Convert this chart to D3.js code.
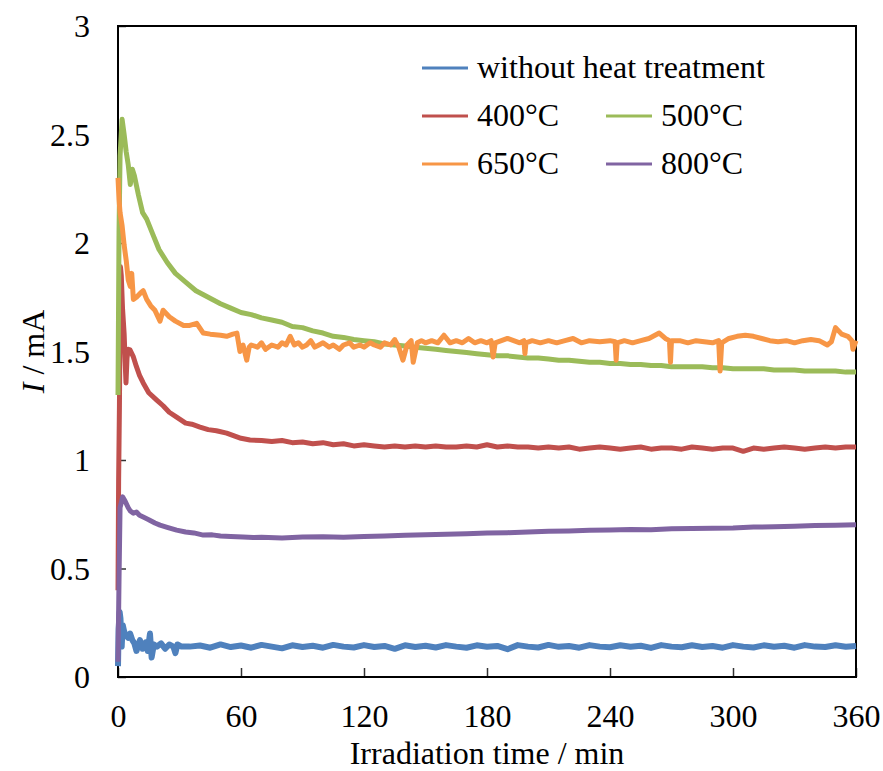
<!DOCTYPE html>
<html lang="en">
<head>
    <meta charset="UTF-8">
    <title>Current vs irradiation time</title>
    <script src="https://d3js.org/d3.v7.min.js"></script>
    <style>
        body { margin: 0; background: #fff; }
        text { font-family: "Liberation Serif", "Times New Roman", serif; }
    </style>
</head>
<body>
    <svg id="chart" width="883" height="771"></svg>

    <script>
        // tick labels
        var xTicks = [0, 60, 120, 180, 240, 300, 360];
        var yTicks = [0, 0.5, 1, 1.5, 2, 2.5, 3];

        // without heat treatment
        var tBlue = [0, 0.3, 0.8, 1.2, 1.8, 2.3, 3, 4, 5, 5.9, 7, 8, 9, 10.7, 12, 13.5, 14.5, 15.6, 16.4, 17.5, 19, 21, 23, 25, 27, 28, 29, 31,
            35, 40, 45, 50, 55, 60, 65, 70, 75, 80, 85, 90, 95, 100, 105, 110, 115, 120, 125, 130, 135, 140, 145, 150, 155, 160, 165, 170, 175,
            180, 185, 190, 195, 200, 205, 210, 215, 220, 225, 230, 235, 240, 245, 250, 255, 260, 265, 270, 275, 280, 285, 290, 295, 300, 305,
            310, 315, 320, 325, 330, 335, 340, 345, 350, 355, 360];
        var vBlue = [0.05, 0.22, 0.30, 0.27, 0.14, 0.24, 0.21, 0.19, 0.18, 0.20, 0.17, 0.155, 0.12, 0.17, 0.13, 0.16, 0.12, 0.20, 0.09, 0.15, 0.14, 0.155, 0.13, 0.15, 0.14, 0.11, 0.15, 0.14,
            0.14, 0.145, 0.135, 0.15, 0.138, 0.145, 0.135, 0.148, 0.14, 0.132, 0.146, 0.138, 0.144, 0.135, 0.148, 0.14, 0.136, 0.147, 0.138, 0.143, 0.13, 0.146, 0.138, 0.144, 0.136, 0.147, 0.14, 0.135, 0.146,
            0.139, 0.143, 0.128, 0.147, 0.14, 0.136, 0.148, 0.139, 0.143, 0.135, 0.147, 0.14, 0.137, 0.146, 0.139, 0.144, 0.134, 0.147, 0.14, 0.137, 0.146, 0.138, 0.143, 0.135, 0.147, 0.14,
            0.136, 0.146, 0.139, 0.144, 0.135, 0.147, 0.14, 0.138, 0.146, 0.139, 0.143];

        // 400°C
        var tRed = [0, 0.3, 0.7, 1.2, 1.6, 2.2, 3, 3.5, 3.9, 4.4, 5, 5.9, 7.5, 9, 10.5, 12.3, 15, 18.9, 22, 25, 28.6, 33, 36, 40, 44, 48, 53, 57, 60, 64.4,
            70, 75, 80, 85, 90, 95, 100, 105, 110, 115, 120, 125, 130, 135, 140, 145, 150, 155, 160, 165, 170, 175, 180, 185, 190, 195, 200, 205,
            210, 215, 220, 225, 230, 235, 240, 245, 250, 255, 260, 265, 270, 275, 280, 285, 290, 295, 300, 305, 310, 315, 320, 325, 330, 335,
            340, 345, 350, 355, 360];
        var vRed = [0.40, 0.90, 1.25, 1.89, 1.85, 1.70, 1.58, 1.45, 1.355, 1.47, 1.51, 1.507, 1.475, 1.43, 1.39, 1.355, 1.31, 1.276, 1.25, 1.22, 1.198, 1.17, 1.165, 1.152, 1.14, 1.135, 1.124, 1.11, 1.10, 1.092,
            1.09, 1.085, 1.09, 1.08, 1.083, 1.075, 1.08, 1.07, 1.075, 1.065, 1.07, 1.065, 1.06, 1.065, 1.06, 1.065, 1.06, 1.065, 1.06, 1.06, 1.065, 1.06, 1.07, 1.06, 1.065, 1.06, 1.06, 1.055,
            1.06, 1.055, 1.06, 1.05, 1.055, 1.06, 1.055, 1.05, 1.055, 1.06, 1.05, 1.055, 1.055, 1.05, 1.06, 1.055, 1.05, 1.055, 1.055, 1.04, 1.055, 1.05, 1.055, 1.06, 1.055, 1.05,
            1.055, 1.06, 1.055, 1.06, 1.06];

        // 500°C
        var tGreen = [0, 0.5, 1, 2, 3, 4, 5, 6, 7, 8, 10, 12, 14, 17, 20, 24, 28, 33, 38, 44, 50, 55,
            60, 65, 70, 75, 80, 85, 90, 95, 100, 105, 110, 115, 120, 125, 130, 135, 140, 145, 150, 155, 160, 165, 170, 175, 180, 185, 190,
            195, 200, 205, 210, 215, 220, 225, 230, 235, 240, 245, 250, 255, 260, 265, 270, 275, 280, 285, 290, 295, 300, 305, 310, 315, 320,
            325, 330, 335, 340, 345, 350, 355, 360];
        var vGreen = [1.30, 2.05, 2.40, 2.57, 2.50, 2.42, 2.36, 2.27, 2.34, 2.31, 2.22, 2.14, 2.11, 2.04, 1.97, 1.91, 1.86, 1.82, 1.78, 1.75, 1.72, 1.70,
            1.68, 1.67, 1.655, 1.645, 1.635, 1.615, 1.61, 1.595, 1.585, 1.57, 1.565, 1.555, 1.55, 1.545, 1.535, 1.53, 1.525, 1.52, 1.515, 1.51, 1.505, 1.50, 1.495, 1.49, 1.485, 1.48, 1.48,
            1.475, 1.47, 1.47, 1.465, 1.46, 1.46, 1.455, 1.45, 1.45, 1.445, 1.445, 1.44, 1.44, 1.435, 1.435, 1.43, 1.43, 1.43, 1.43, 1.425, 1.425, 1.42, 1.42, 1.42, 1.42, 1.415,
            1.415, 1.415, 1.41, 1.41, 1.41, 1.41, 1.405, 1.405];

        // 650°C
        var tOrange = [0, 0.5, 1, 2, 3, 4, 5, 6, 6.7, 7.5, 9, 11, 12.3, 14, 16, 18, 19, 20.5, 22, 25, 28, 32, 35, 38.4, 41.6, 45, 50, 53, 56, 58, 59.5, 61, 62.8, 64,
            65, 68, 70, 72, 75, 78, 80, 82, 84, 86, 88, 90, 92, 94, 96, 98, 100, 103, 105, 108, 110, 113, 115, 118, 120, 123, 125, 128, 130, 133,
            135, 137, 139, 141, 143, 144, 146, 148, 150, 153, 156, 159, 162, 165, 168, 171, 174, 177, 180, 182, 183, 184, 187, 190, 193, 196, 198,
            198.5, 199, 202, 206, 210, 214, 218, 222, 226, 230, 235, 240, 242.5, 243, 243.5, 247, 251, 255, 259, 264, 267, 269, 269.5, 270, 274,
            278, 282, 286, 290, 293, 293.7, 294.5, 298, 302, 306, 310, 314, 318, 322, 326, 330, 334, 338, 342, 346, 348, 350, 353, 356, 358, 358.5, 360];
        var vOrange = [2.30, 2.20, 2.14, 2.08, 1.99, 1.92, 1.83, 1.80, 1.86, 1.74, 1.75, 1.77, 1.78, 1.74, 1.71, 1.69, 1.67, 1.64, 1.69, 1.66, 1.64, 1.62, 1.62, 1.63, 1.585, 1.58, 1.575, 1.57, 1.58, 1.585, 1.50, 1.53, 1.46, 1.52,
            1.53, 1.52, 1.54, 1.51, 1.53, 1.52, 1.54, 1.53, 1.57, 1.53, 1.54, 1.52, 1.53, 1.55, 1.52, 1.53, 1.54, 1.52, 1.53, 1.51, 1.53, 1.54, 1.52, 1.53, 1.52, 1.54, 1.53, 1.52, 1.54, 1.53,
            1.555, 1.52, 1.46, 1.53, 1.55, 1.45, 1.54, 1.55, 1.54, 1.55, 1.54, 1.575, 1.54, 1.55, 1.54, 1.56, 1.54, 1.55, 1.54, 1.55, 1.475, 1.54, 1.55, 1.56, 1.55, 1.54, 1.55,
            1.49, 1.54, 1.55, 1.54, 1.55, 1.54, 1.55, 1.56, 1.54, 1.55, 1.545, 1.55, 1.545, 1.46, 1.54, 1.55, 1.54, 1.55, 1.56, 1.585, 1.56, 1.55, 1.45, 1.55, 1.55,
            1.54, 1.55, 1.545, 1.54, 1.55, 1.41, 1.54, 1.56, 1.57, 1.575, 1.57, 1.56, 1.55, 1.545, 1.55, 1.54, 1.55, 1.555, 1.55, 1.53, 1.545, 1.61, 1.58, 1.57, 1.55, 1.51, 1.55];

        // 800°C
        var tPurple = [0, 0.5, 1, 2.3, 3.5, 5, 6, 7.5, 9, 10.5, 12.3, 15, 18, 20.5, 24, 28.6, 33, 37, 41.6, 46, 50, 55, 61, 66,
            70, 80, 90, 100, 110, 120, 130, 140, 150, 160, 170, 180, 190, 200, 210, 220, 230, 240, 250, 260, 270, 280, 290, 300, 310, 320,
            330, 340, 350, 360];
        var vPurple = [0.07, 0.45, 0.78, 0.83, 0.81, 0.78, 0.765, 0.755, 0.76, 0.745, 0.737, 0.725, 0.71, 0.70, 0.69, 0.677, 0.668, 0.664, 0.654, 0.655, 0.65, 0.648, 0.645, 0.643,
            0.644, 0.640, 0.645, 0.646, 0.644, 0.648, 0.650, 0.653, 0.655, 0.658, 0.660, 0.664, 0.665, 0.668, 0.672, 0.673, 0.676, 0.677, 0.680, 0.679, 0.683, 0.684, 0.686, 0.687, 0.691, 0.692,
            0.695, 0.698, 0.699, 0.702];

        var seriesNames = ["without heat treatment", "400°C", "500°C", "650°C", "800°C"];
        var seriesColors = ["#4F81BD", "#C0504D", "#9BBB59", "#F79646", "#8064A2"];
        var seriesTimes = [tBlue, tRed, tGreen, tOrange, tPurple];
        var seriesValues = [vBlue, vRed, vGreen, vOrange, vPurple];

        var margin = { top: 26, right: 27, bottom: 94, left: 118 };
        var width = 883 - margin.left - margin.right;
        var height = 771 - margin.top - margin.bottom;

        var svg = d3.select("#chart")
            .append("g")
            .attr("transform", "translate(" + margin.left + "," + margin.top + ")");

        var x = d3.scaleLinear().domain([0, 360]).range([0, width]);
        var y = d3.scaleLinear().domain([0, 3]).range([height, 0]);

        // x axis, ticks pointing inward
        var xAxis = svg.append("g")
            .attr("transform", "translate(0," + height + ")")
            .call(d3.axisBottom(x).tickValues(xTicks).tickSize(-9).tickSizeOuter(0).tickPadding(27));
        xAxis.select(".domain").remove();
        xAxis.selectAll("line").attr("stroke", "#333").attr("stroke-width", 1.5);
        xAxis.selectAll("text").attr("font-size", 32).attr("fill", "#000");

        // y axis
        var yAxis = svg.append("g")
            .call(d3.axisLeft(y).tickValues(yTicks).tickFormat(d => String(d)).tickSize(-8).tickSizeOuter(0).tickPadding(28));
        yAxis.select(".domain").remove();
        yAxis.selectAll("line").attr("stroke", "#333").attr("stroke-width", 1.5);
        yAxis.selectAll("text").attr("font-size", 32).attr("fill", "#000").attr("dy", "0.34em");

        // frame
        svg.append("rect")
            .attr("width", width)
            .attr("height", height)
            .attr("fill", "none")
            .attr("stroke", "#000")
            .attr("stroke-width", 2);

        // series lines
        var line = d3.line()
            .x(d => x(d[0]))
            .y(d => y(d[1]));

        seriesNames.forEach(function(name, i) {
            var pts = seriesTimes[i].map((t, j) => [t, seriesValues[i][j]]);
            svg.append("path")
                .datum(pts)
                .attr("fill", "none")
                .attr("stroke", seriesColors[i])
                .attr("stroke-width", i === 0 ? 6 : 5)
                .attr("stroke-linejoin", "round")
                .attr("d", line);
        });

        // axis titles
        svg.append("text")
            .attr("x", width / 2)
            .attr("y", height + 87)
            .attr("text-anchor", "middle")
            .attr("font-size", 32)
            .text("Irradiation time / min");

        var yTitle = svg.append("text")
            .attr("transform", "translate(-74," + (height / 2) + ") rotate(-90)")
            .attr("text-anchor", "middle")
            .attr("font-size", 32);
        yTitle.append("tspan").attr("font-style", "italic").text("I");
        yTitle.append("tspan").text(" / mA");

        // legend: first entry on its own row, then two columns
        var legendPos = [[304, 42], [304, 90], [488, 90], [304, 138], [488, 138]];
        var legend = svg.selectAll(".legend")
            .data(seriesNames)
            .enter().append("g")
            .attr("class", "legend")
            .attr("transform", (d, i) => "translate(" + legendPos[i][0] + "," + legendPos[i][1] + ")");

        legend.append("line")
            .attr("x1", 0)
            .attr("x2", 46)
            .attr("stroke", (d, i) => seriesColors[i])
            .attr("stroke-width", 3);

        legend.append("text")
            .attr("x", 55)
            .attr("y", 10)
            .attr("font-size", 32)
            .text(d => d);
    </script>
</body>
</html>
